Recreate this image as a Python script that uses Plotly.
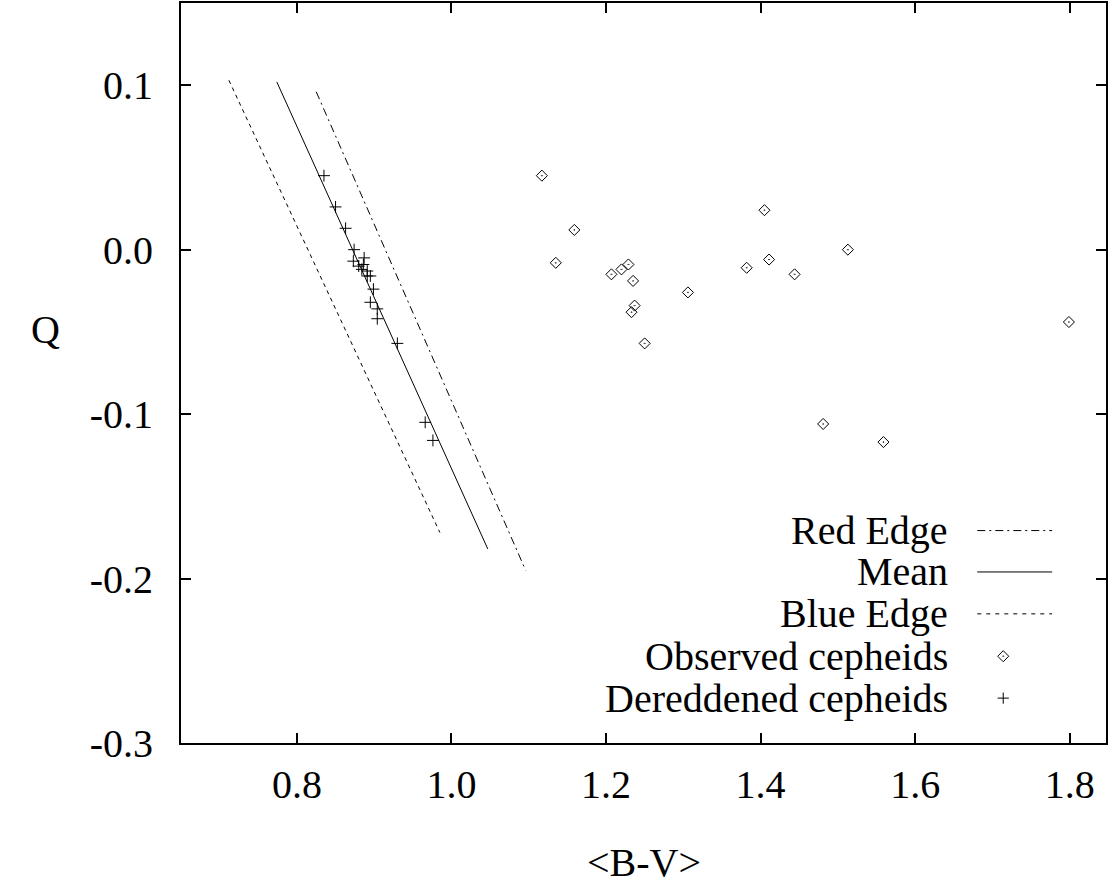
import plotly.graph_objects as go

# ---- data ----
obs_bv = [1.117, 1.159, 1.135, 1.207, 1.220, 1.229, 1.235, 1.237, 1.233, 1.250,
          1.306, 1.405, 1.382, 1.411, 1.444, 1.513, 1.799, 1.481, 1.559]
obs_q = [0.045, 0.012, -0.008, -0.015, -0.012, -0.009, -0.019, -0.034, -0.038, -0.057,
         -0.026, 0.024, -0.011, -0.006, -0.015, 0.000, -0.044, -0.106, -0.117]

der_bv = [0.835, 0.850, 0.863, 0.874, 0.873, 0.887, 0.880, 0.886, 0.884, 0.891,
          0.891, 0.895, 0.899, 0.895, 0.904, 0.904, 0.930, 0.966, 0.976]
der_q = [0.045, 0.026, 0.013, 0.000, -0.007, -0.005, -0.010, -0.009, -0.012, -0.013,
         -0.016, -0.016, -0.024, -0.032, -0.036, -0.042, -0.057, -0.105, -0.116]

red_edge_bv = [0.825, 1.096]
red_edge_q = [0.096, -0.195]
mean_bv = [0.774, 1.047]
mean_q = [0.102, -0.182]
blue_edge_bv = [0.712, 0.985]
blue_edge_q = [0.103, -0.172]

x_tickvals = [0.8, 1.0, 1.2, 1.4, 1.6, 1.8]
x_ticktext = ["0.8", "1.0", "1.2", "1.4", "1.6", "1.8"]
y_tickvals = [0.1, 0.0, -0.1, -0.2, -0.3]
y_ticktext = ["0.1", "0.0", "-0.1", "-0.2", "-0.3"]

legend_labels = ["Red Edge", "Mean", "Blue Edge", "Observed cepheids", "Dereddened cepheids"]

FONT = "'Liberation Serif', 'Times New Roman', Times, serif"
FS = 40
W, H = 1109, 888
L, R, T, B = 181, 1, 1, 145
pw, ph = W - L - R, H - T - B

fig = go.Figure()

fig.add_trace(go.Scatter(x=red_edge_bv, y=red_edge_q, mode="lines",
                         line=dict(color="black", width=1, dash="8px,4px,2px,4px"),
                         showlegend=False))
fig.add_trace(go.Scatter(x=mean_bv, y=mean_q, mode="lines",
                         line=dict(color="black", width=1), showlegend=False))
fig.add_trace(go.Scatter(x=blue_edge_bv, y=blue_edge_q, mode="lines",
                         line=dict(color="black", width=1, dash="4px,4px"),
                         showlegend=False))
fig.add_trace(go.Scatter(x=obs_bv, y=obs_q, mode="markers",
                         marker=dict(symbol="diamond-open-dot", size=8.5, color="black",
                                     line=dict(width=1, color="black")),
                         showlegend=False))
fig.add_trace(go.Scatter(x=der_bv, y=der_q, mode="markers",
                         marker=dict(symbol="cross-thin-open", size=8.5, color="black",
                                     line=dict(width=1, color="black")),
                         showlegend=False))

# ---- custom legend (text right-aligned, sample on the right) ----
def px2paper_x(px):
    return (px - L) / pw

def px2paper_y(py):
    return (T + ph - py) / ph

rows_y = [530, 571.5, 613.5, 656, 698]
text_right = 952
line_x0, line_x1 = 979, 1054
pt_x = 1005

for lab, ry in zip(legend_labels, rows_y):
    fig.add_annotation(x=px2paper_x(text_right), y=px2paper_y(ry), xref="paper", yref="paper",
                       text=lab, showarrow=False, xanchor="right", yanchor="middle",
                       font=dict(family=FONT, size=FS, color="black"))

dashes = ["8px,4px,2px,4px", "solid", "4px,5px"]
for d, ry in zip(dashes, rows_y[:3]):
    fig.add_shape(type="line", xref="paper", yref="paper",
                  x0=px2paper_x(line_x0), x1=px2paper_x(line_x1),
                  y0=px2paper_y(ry), y1=px2paper_y(ry),
                  line=dict(color="black", width=1, dash=d))

# legend marker samples on an overlay axis in paper units
fig.add_trace(go.Scatter(x=[px2paper_x(pt_x)], y=[px2paper_y(rows_y[3])], mode="markers",
                         xaxis="x2", yaxis="y2", showlegend=False,
                         marker=dict(symbol="diamond-open-dot", size=8.5, color="black",
                                     line=dict(width=1, color="black"))))
fig.add_trace(go.Scatter(x=[px2paper_x(pt_x)], y=[px2paper_y(rows_y[4])], mode="markers",
                         xaxis="x2", yaxis="y2", showlegend=False,
                         marker=dict(symbol="cross-thin-open", size=8, color="black",
                                     line=dict(width=1, color="black"))))

# axis titles
fig.add_annotation(x=px2paper_x(45), y=px2paper_y(328), xref="paper", yref="paper",
                   text="Q", showarrow=False, xanchor="center", yanchor="middle",
                   font=dict(family=FONT, size=FS, color="black"))
fig.add_annotation(x=0.5, y=px2paper_y(863), xref="paper", yref="paper",
                   text="&lt;B-V&gt;", showarrow=False, xanchor="center", yanchor="middle",
                   font=dict(family=FONT, size=FS, color="black"))

axis_common = dict(showgrid=False, zeroline=False, showline=True, linecolor="black",
                   linewidth=2, mirror="ticks", ticks="inside", ticklen=10, tickwidth=1.5,
                   tickcolor="black", tickfont=dict(family=FONT, size=FS, color="black"))

fig.update_layout(
    width=W, height=H,
    margin=dict(l=L, r=R, t=T, b=B),
    paper_bgcolor="white", plot_bgcolor="white",
    font=dict(family=FONT, size=FS, color="black"),
    showlegend=False,
    xaxis=dict(range=[0.65, 1.847], tickvals=x_tickvals, ticktext=x_ticktext,
               ticklabelstandoff=5, **axis_common),
    yaxis=dict(range=[-0.3, 0.15], tickvals=y_tickvals, ticktext=y_ticktext,
               ticklabelstandoff=18, **axis_common),
    xaxis2=dict(range=[0, 1], overlaying="x", visible=False, fixedrange=True),
    yaxis2=dict(range=[0, 1], overlaying="y", visible=False, fixedrange=True),
)

fig.write_html("out.html")
